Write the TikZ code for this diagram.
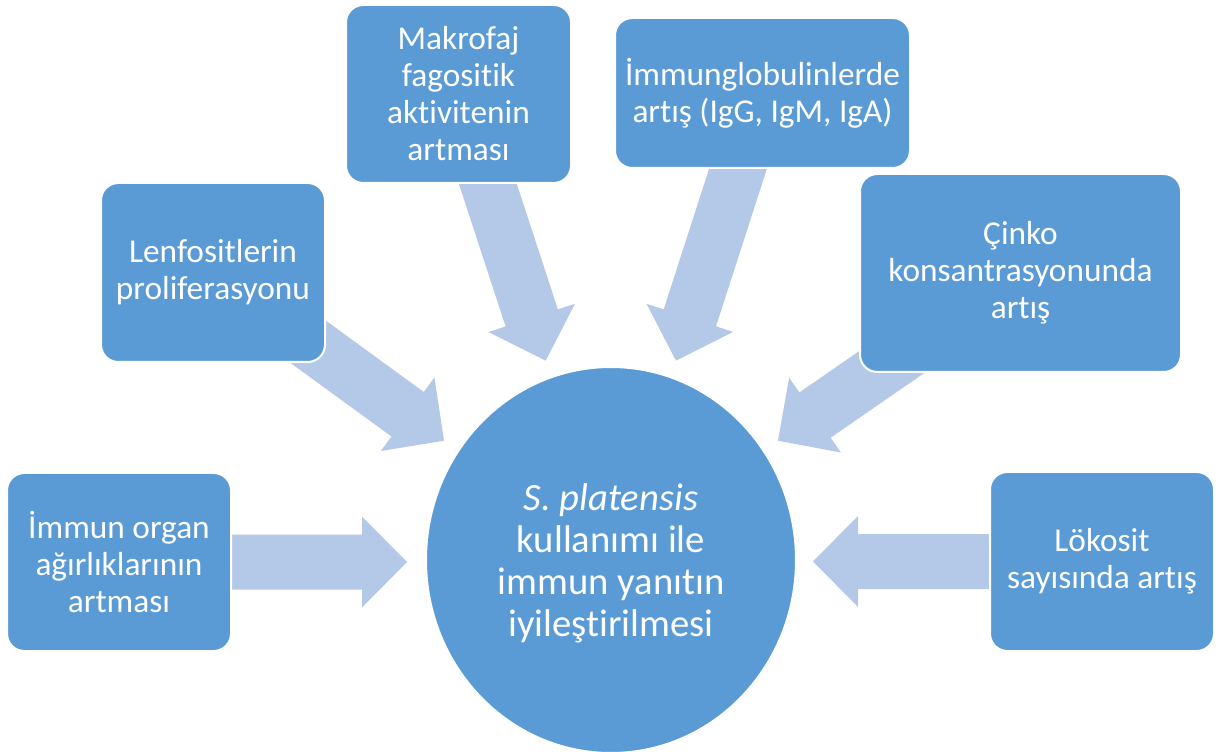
\documentclass[tikz,border=0pt]{standalone}
\usepackage{fontspec}
\setmainfont{Carlito}[RawFeature={-liga;-clig;-dlig;-calt;-rlig}]
\usetikzlibrary{calc,shapes.geometric}
\definecolor{boxblue}{HTML}{5B9BD5}
\definecolor{arrowblue}{HTML}{B4C9E8}
\pgfdeclarelayer{bg}
\pgfsetlayers{bg,main}
\tikzset{
  box/.style={rectangle, rounded corners=13pt, fill=boxblue, draw=white, line width=1.5pt,
    text=white, align=center, inner sep=2pt, font=\fontsize{25}{27.75}\selectfont},
  hub/.style={ellipse, fill=boxblue, draw=white, line width=1.5pt, text=white, align=center,
    minimum width=277.5pt, minimum height=289.5pt, inner sep=0pt},
  hubtext/.style={text=white, align=center, inner sep=0pt, font=\fontsize{29}{31.5}\selectfont},
  arrowfill/.style={fill=arrowblue}
}
% #1 name, #2 tail, #3 tip
\newcommand\blockarr[3]{%
  \coordinate (#1b) at ($(#3)!33.75pt!(#2)$);
  \fill[arrowfill] ($(#2)!20.625pt!90:(#3)$) -- ($(#1b)!20.625pt!-90:(#2)$)
    -- ($(#1b)!34.125pt!-90:(#2)$) -- (#3) -- ($(#1b)!34.125pt!90:(#2)$)
    -- ($(#1b)!20.625pt!90:(#2)$) -- ($(#2)!20.625pt!-90:(#3)$) -- cycle;}
\begin{document}
\begin{tikzpicture}[x=0.75pt,y=-0.75pt]
\useasboundingbox (0,0) rectangle (1222,752);
\clip (0,0) rectangle (1222,752);

\node[box, minimum width=168pt, minimum height=133.5pt] (organ) at (119,562)
  {İmmun organ\\ağırlıklarının\\artması};
\node[box, minimum width=168pt, minimum height=134.25pt] (lenf) at (213,272.5)
  {Lenfositlerin\\proliferasyonu};
\node[box, minimum width=168.75pt, minimum height=133.5pt] (makro) at (458.5,94)
  {Makrofaj\\fagositik\\aktivitenin\\artması};
\node[box, minimum width=221.25pt, minimum height=112.5pt] (immun) at (762.5,93)
  {İmmunglobulinlerde\\artış (IgG, IgM, IgA)};
\node[box, minimum width=240.75pt, minimum height=148.5pt] (cinko) at (1020.5,273)
  {Çinko\\konsantrasyonunda\\artış};
\node[box, minimum width=168pt, minimum height=134.25pt] (lokosit) at (1102,561.5)
  {Lökosit\\sayısında artış};
\node[hub] (hub) at (611,560) {};
\node[hubtext] (hubtxt) at (611,563)
  {\textit{S. platensis}\\kullanımı ile\\immun yanıtın\\iyileştirilmesi};

\coordinate (t1) at (407,562);
\coordinate (t2) at (444,440.7);
\coordinate (t3) at (545.7,360.7);
\coordinate (t4) at (676,360.7);
\coordinate (t5) at (778,440.7);
\coordinate (t6) at (813,561.5);

\begin{pgfonlayer}{bg}
  \fill[white] (0,0) rectangle (1222,752);
  \blockarr{a1}{organ.center}{t1}
  \blockarr{a2}{lenf.center}{t2}
  \blockarr{a3}{makro.center}{t3}
  \blockarr{a4}{immun.center}{t4}
  \blockarr{a5}{cinko.center}{t5}
  \blockarr{a6}{lokosit.center}{t6}
\end{pgfonlayer}
\end{tikzpicture}
\end{document}
